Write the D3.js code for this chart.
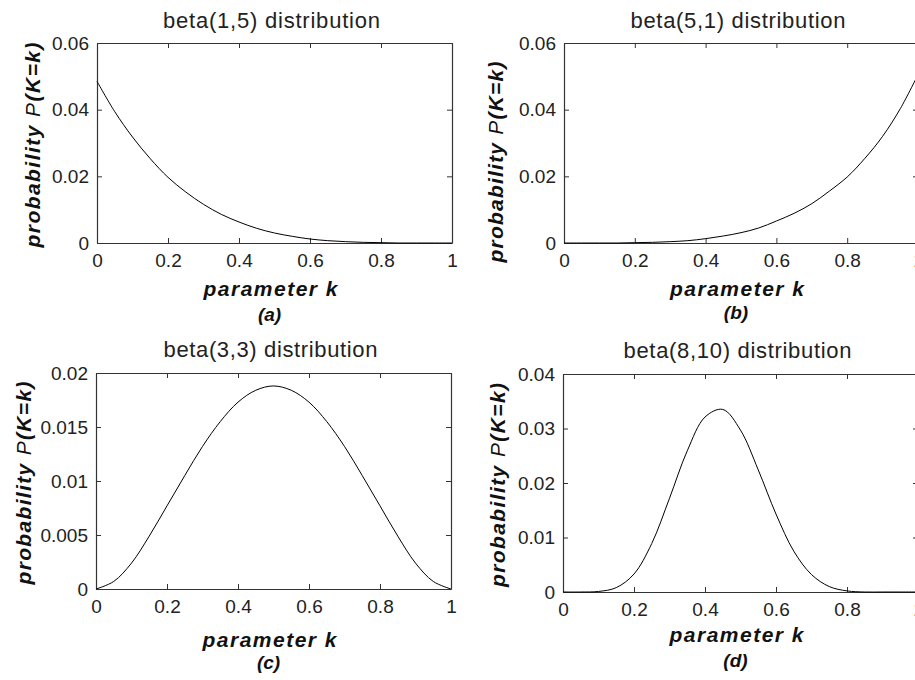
<!DOCTYPE html>
<html>
<head>
<meta charset="utf-8">
<script src="https://cdn.jsdelivr.net/npm/d3@7"></script>
<style>
  body { margin: 0; background: #fff; }
  svg { display: block; }
  .tick text { font-family: "Liberation Sans", Arial, sans-serif; font-size: 19px; fill: #222; }
  .title { font-family: "Liberation Sans", Arial, sans-serif; font-size: 22px; fill: #222; }
  .lab { font-family: "Liberation Sans", Arial, sans-serif; font-size: 21px; font-weight: bold; font-style: italic; fill: #111; }
  .tag { font-family: "Liberation Sans", Arial, sans-serif; font-size: 19px; font-weight: bold; font-style: italic; fill: #111; }
</style>
</head>
<body>
<script>
// parameter grid (x values read at 0.05 steps)
var kGrid = [0, 0.05, 0.1, 0.15, 0.2, 0.25, 0.3, 0.35, 0.4, 0.45, 0.5,
             0.55, 0.6, 0.65, 0.7, 0.75, 0.8, 0.85, 0.9, 0.95, 1];

// series values
var beta15 = [0.0485, 0.0394, 0.0318, 0.0253, 0.0197, 0.0153, 0.0116, 0.0086, 0.0063, 0.0044, 0.0030,
              0.0020, 0.0012, 0.0007, 0.0004, 0.0002, 0.0001, 0, 0, 0, 0];
var beta51 = [0, 0, 0, 0, 0.0001, 0.0002, 0.0004, 0.0007, 0.0013, 0.0021, 0.0031,
              0.0045, 0.0066, 0.0089, 0.0118, 0.0156, 0.0198, 0.0254, 0.0320, 0.0403, 0.0505];
var beta33 = [0, 0.0007, 0.0024, 0.0049, 0.0077, 0.0105, 0.0132, 0.0155, 0.0173, 0.0184, 0.0188,
              0.0184, 0.0173, 0.0155, 0.0132, 0.0105, 0.0077, 0.0049, 0.0024, 0.0007, 0];
var beta810 = [0, 0, 0.0001, 0.0008, 0.0033, 0.0089, 0.0172, 0.0259, 0.0321, 0.0335, 0.0297,
               0.0224, 0.0143, 0.0075, 0.0032, 0.0010, 0.0002, 0, 0, 0, 0];

var titles = ['beta(1,5) distribution', 'beta(5,1) distribution', 'beta(3,3) distribution', 'beta(8,10) distribution'];
var tags = ['(a)', '(b)', '(c)', '(d)'];

var xTicks = [0, 0.2, 0.4, 0.6, 0.8, 1];
var yTicksAB = [0, 0.02, 0.04, 0.06];
var yTicksC = [0, 0.005, 0.01, 0.015, 0.02];
var yTicksD = [0, 0.01, 0.02, 0.03, 0.04];

var series = [beta15, beta51, beta33, beta810];
var yTickSets = [yTicksAB, yTicksAB, yTicksC, yTicksD];

// panel geometry (pixels)
var layout = [
    { x0: 97,  x1: 452, y0: 43,  y1: 243, titleY: 28,  titleW: 217, xlabY: 296, tagY: 321, ylabX: 40,  ylabY: 145, ylabW: 205 },
    { x0: 564, x1: 918, y0: 43,  y1: 243, titleY: 28,  titleW: 215, xlabY: 296, tagY: 319, ylabX: 503, ylabY: 162, ylabW: 201 },
    { x0: 96,  x1: 451, y0: 373, y1: 589, titleY: 357, titleW: 214, xlabY: 647, tagY: 669, ylabX: 31,  ylabY: 483, ylabW: 203 },
    { x0: 563, x1: 918, y0: 374, y1: 592, titleY: 358, titleW: 228, xlabY: 642, tagY: 667, ylabX: 505, ylabY: 485, ylabW: 204 }
];

var svg = d3.select('body').append('svg')
    .attr('width', 915)
    .attr('height', 680);

svg.append('rect').attr('width', 915).attr('height', 680).attr('fill', '#fff');

layout.forEach(function( L, i ){
    var vals = series[i],
        yt = yTickSets[i],
        cx = (L.x0 + L.x1) / 2 - 3;

    var x = d3.scaleLinear().domain([0, 1]).range([L.x0, L.x1]);
    var y = d3.scaleLinear().domain([0, yt[yt.length - 1]]).range([L.y1, L.y0]);

    var g = svg.append('g');

    // inward ticks on all four sides, like a boxed matlab axis
    var axes = [
        { a: d3.axisBottom(x).tickValues(xTicks).tickFormat(String).tickPadding(10.5), t: 'translate(0,' + L.y1 + ')' },
        { a: d3.axisTop(x).tickValues(xTicks).tickFormat(''), t: 'translate(0,' + L.y0 + ')' },
        { a: d3.axisLeft(y).tickValues(yt).tickFormat(String).tickPadding(8), t: 'translate(' + L.x0 + ',0)' },
        { a: d3.axisRight(y).tickValues(yt).tickFormat(''), t: 'translate(' + L.x1 + ',0)' }
    ];
    axes.forEach(function( d ){
        var ax = g.append('g').attr('transform', d.t)
            .call(d.a.tickSize(-5).tickSizeOuter(0));
        ax.select('.domain').attr('stroke', '#333').attr('stroke-width', 1.2);
        ax.selectAll('.tick line').attr('stroke', '#333');
        ax.selectAll('.tick text').attr('fill', '#222');
    });

    var line = d3.line()
        .x(function( d, j ){ return x(kGrid[j]); })
        .y(function( d ){ return y(d); })
        .curve(d3.curveCatmullRom);

    g.append('path')
        .datum(vals)
        .attr('d', line)
        .attr('fill', 'none')
        .attr('stroke', '#000')
        .attr('stroke-width', 1);

    g.append('text').attr('class', 'title')
        .attr('x', cx).attr('y', L.titleY)
        .attr('text-anchor', 'middle')
        .attr('textLength', L.titleW).attr('lengthAdjust', 'spacing')
        .text(titles[i]);

    g.append('text').attr('class', 'lab')
        .attr('x', cx - 1).attr('y', L.xlabY)
        .attr('text-anchor', 'middle')
        .attr('textLength', 134).attr('lengthAdjust', 'spacing')
        .text('parameter k');

    g.append('text').attr('class', 'tag')
        .attr('x', cx - 2).attr('y', L.tagY)
        .attr('text-anchor', 'middle')
        .text(tags[i]);

    var yl = g.append('text').attr('class', 'lab')
        .attr('transform', 'translate(' + L.ylabX + ',' + L.ylabY + ') rotate(-90)')
        .attr('text-anchor', 'middle')
        .attr('textLength', L.ylabW).attr('lengthAdjust', 'spacing');
    yl.append('tspan').text('probability ');
    yl.append('tspan').attr('font-weight', 'normal').text('P');
    yl.append('tspan').text('(K=k)');
});
</script>
</body>
</html>
